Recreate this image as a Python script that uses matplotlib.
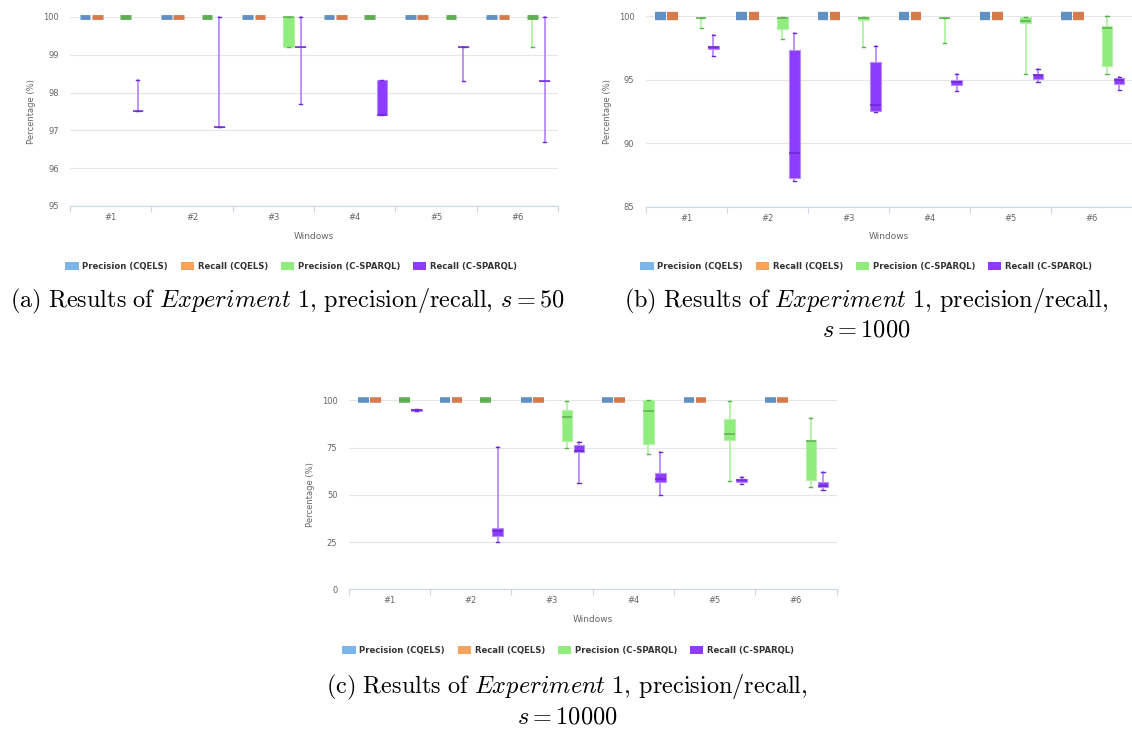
import numpy as np
import matplotlib.pyplot as plt
from matplotlib.patches import Patch

plt.rcParams['mathtext.fontset'] = 'cm'

W, H = 1132, 733

windows = ['#1', '#2', '#3', '#4', '#5', '#6']
series_names = ['Precision (CQELS)', 'Recall (CQELS)', 'Precision (C-SPARQL)', 'Recall (C-SPARQL)']

# one tuple per window: (low, q1, median, q3, high)
full = (100, 100, 100, 100, 100)

# (a) s = 50
a_prec_cqels = [full] * 6
a_rec_cqels = [full] * 6
a_prec_csparql = [full, full, (99.2, 99.2, 100, 100, 100), full, full, (99.2, 100, 100, 100, 100)]
a_rec_csparql = [(97.5, 97.5, 97.5, 97.5, 98.33), (97.1, 97.1, 97.1, 97.1, 100),
                 (97.7, 99.2, 99.2, 99.2, 100), (97.4, 97.4, 97.4, 98.33, 98.33),
                 (98.3, 99.2, 99.2, 99.2, 99.2), (96.7, 98.3, 98.3, 98.3, 100)]

# (b) s = 1000
b_prec_cqels = [full] * 6
b_rec_cqels = [full] * 6
b_prec_csparql = [(99.05, 99.9, 99.9, 99.9, 99.9), (98.2, 98.97, 99.9, 99.92, 99.92),
                  (97.55, 99.68, 99.9, 99.92, 99.92), (97.87, 99.9, 99.9, 99.9, 99.9),
                  (95.43, 99.47, 99.6, 99.92, 99.92), (95.43, 96.1, 99.05, 99.2, 100)]
b_rec_csparql = [(96.85, 97.45, 97.55, 97.7, 98.5), (87.05, 87.3, 89.23, 97.37, 98.66),
                 (92.44, 92.57, 92.99, 96.37, 97.7), (94.1, 94.6, 94.83, 95.0, 95.43),
                 (94.8, 95.09, 95.35, 95.43, 95.83), (94.17, 94.67, 94.96, 95.12, 95.2)]

# (c) s = 10000
c_prec_cqels = [full] * 6
c_rec_cqels = [full] * 6
c_prec_csparql = [full, full, (74.5, 78.3, 91.4, 95.1, 99.5), (71.7, 76.8, 94.2, 100, 100),
                  (57.4, 79.0, 82.0, 90.3, 99.5), (54.2, 57.9, 78.3, 79.2, 90.8)]
c_rec_csparql = [(94.2, 94.5, 95.0, 95.6, 95.6), (25.2, 28.4, 30.7, 32.4, 75.5),
                 (56.5, 72.5, 73.2, 76.2, 78.0), (50.0, 57.0, 58.1, 61.3, 72.4),
                 (55.5, 57.0, 57.6, 58.6, 59.2), (52.3, 53.9, 54.9, 56.7, 62.0)]

base = ['#7cb5ec', '#f7a35c', '#90ed7d', '#8d3cff']
dark = ['#6190c3', '#d67b4b', '#5fae52', '#6a2bd2']
light = ['#a9cdf2', '#f9c49a', '#b2f2a5', '#b68cff']
offsets = [-0.315, -0.165, 0.185, 0.335]
box_w = 0.13

fig = plt.figure(figsize=(W / 100, H / 100), dpi=100)


def draw_panel(left, right, top, bottom, series, ylim, yticks, thick):
    ax = fig.add_axes([left / W, 1 - bottom / H, (right - left) / W, (bottom - top) / H])
    for k, data in enumerate(series):
        stats = [{'whislo': lo, 'q1': q1, 'med': med, 'q3': q3, 'whishi': hi}
                 for lo, q1, med, q3, hi in data]
        pos = np.arange(len(windows)) + offsets[k]
        res = ax.bxp(stats, positions=pos, widths=box_w, capwidths=box_w * 0.3,
                     patch_artist=True, showfliers=False, manage_ticks=False,
                     boxprops=dict(facecolor=base[k], edgecolor=light[k], linewidth=0.8, zorder=3),
                     medianprops=dict(color=dark[k], linewidth=1.1, solid_capstyle='butt', zorder=4),
                     whiskerprops=dict(color=light[k], linewidth=1.3, zorder=2),
                     capprops=dict(color=dark[k], linewidth=1.0, zorder=3))
        for arts in res.values():
            for art in arts:
                art.set_clip_on(False)
        for i, (lo, q1, med, q3, hi) in enumerate(data):
            if q1 == q3 and med == 100:
                res['medians'][i].set_linewidth(thick)
    ax.set_xlim(-0.5, len(windows) - 0.5)
    ax.set_ylim(*ylim)
    ax.set_yticks(yticks)
    ax.set_xticks(np.arange(-0.5, len(windows)), labels=[''] * (len(windows) + 1))
    ax.set_xticks(np.arange(len(windows)), labels=windows, minor=True)
    ax.tick_params(axis='x', which='major', length=4.5, color='#ccd6eb', width=0.8)
    ax.tick_params(axis='x', which='minor', length=0, pad=5, labelsize=6, labelcolor='#666666')
    ax.tick_params(axis='y', length=0, pad=8, labelsize=6, labelcolor='#666666')
    ax.grid(axis='y', color='#e6e6e6', linewidth=0.8, zorder=0)
    ax.set_axisbelow(True)
    for s in ['top', 'right', 'left']:
        ax.spines[s].set_visible(False)
    ax.spines['bottom'].set_color('#ccd6eb')
    ax.spines['bottom'].set_linewidth(0.8)
    ax.set_xlabel('Windows', fontsize=6.5, color='#666666', labelpad=7)
    ax.set_ylabel('Percentage (%)', fontsize=6, color='#666666', labelpad=5)
    return ax


draw_panel(70, 558, 17, 206, [a_prec_cqels, a_rec_cqels, a_prec_csparql, a_rec_csparql],
           (95, 100), [95, 96, 97, 98, 99, 100], 3.5)
draw_panel(645.5, 1132.5, 16.3, 206.8, [b_prec_cqels, b_rec_cqels, b_prec_csparql, b_rec_csparql],
           (85, 100), [85, 90, 95, 100], 6)
draw_panel(348.5, 836.5, 400.3, 589.3, [c_prec_cqels, c_rec_cqels, c_prec_csparql, c_rec_csparql],
           (0, 100), [0, 25, 50, 75, 100], 4)

handles = [Patch(facecolor=c, edgecolor='none') for c in base]
for cx, cy in [(291, 266), (866, 266), (568, 650)]:
    fig.legend(handles=handles, labels=series_names, loc='center', bbox_to_anchor=(cx / W, 1 - cy / H),
               ncol=4, frameon=False, prop={'size': 6.1, 'weight': 'bold'}, labelcolor='#333333',
               handlelength=1.55, handleheight=1.1, handletextpad=0.45, columnspacing=1.5)

cap = dict(fontsize=17.5, ha='center', va='center', color='black')
fig.text(287 / W, 1 - 301 / H,
         r'$\mathrm{(a)\ Results\ of\ }\mathit{Experiment\ 1}\mathrm{,\,precision/recall,}\,s=50$', **cap)
fig.text(866 / W, 1 - 301 / H,
         r'$\mathrm{(b)\ Results\ of\ }\mathit{Experiment\ 1}\mathrm{,\,precision/recall,}$', **cap)
fig.text(866 / W, 1 - 329 / H, r'$s=1000$', **cap)
fig.text(567 / W, 1 - 687 / H,
         r'$\mathrm{(c)\ Results\ of\ }\mathit{Experiment\ 1}\mathrm{,\,precision/recall,}$', **cap)
fig.text(567 / W, 1 - 716 / H, r'$s=10000$', **cap)

fig.savefig('out.png', dpi=100)
